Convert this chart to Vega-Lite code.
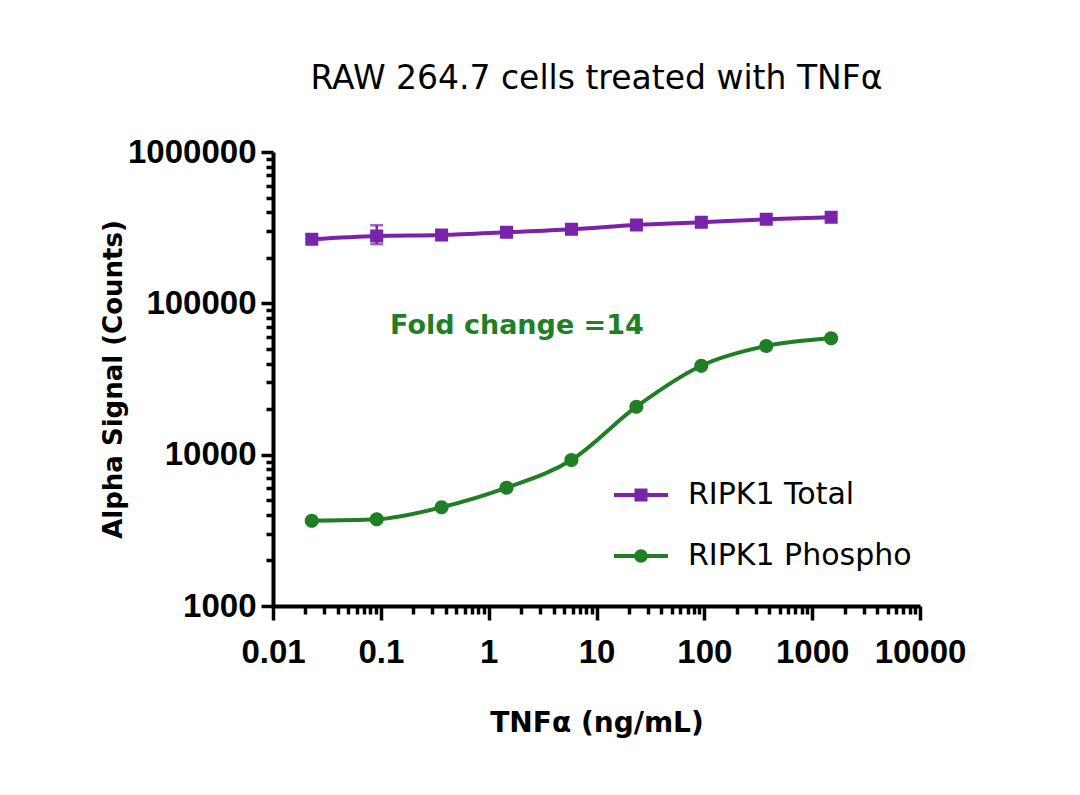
{
  "$schema": "https://vega.github.io/schema/vega-lite/v6.json",
  "width": 647,
  "height": 454,
  "autosize": {"type": "none"},
  "padding": {"left": 273, "top": 152, "right": 160, "bottom": 189},
  "background": "white",
  "title": {"text": "RAW 264.7 cells treated with TNFα", "font": "DejaVu Sans", "fontSize": 33, "fontWeight": "normal", "color": "black", "anchor": "middle", "offset": 40},
  "config": {"view": {"stroke": null}},
  "datasets": {
    "main": [
      {"series": "RIPK1 Total", "conc": 0.02289, "signal": 265000},
      {"series": "RIPK1 Total", "conc": 0.09155, "signal": 278600},
      {"series": "RIPK1 Total", "conc": 0.3662, "signal": 282900},
      {"series": "RIPK1 Total", "conc": 1.465, "signal": 294700},
      {"series": "RIPK1 Total", "conc": 5.859, "signal": 308500},
      {"series": "RIPK1 Total", "conc": 23.44, "signal": 329400},
      {"series": "RIPK1 Total", "conc": 93.75, "signal": 343200},
      {"series": "RIPK1 Total", "conc": 375, "signal": 359200},
      {"series": "RIPK1 Total", "conc": 1500, "signal": 370400},
      {"series": "RIPK1 Phospho", "conc": 0.02289, "signal": 3663},
      {"series": "RIPK1 Phospho", "conc": 0.09155, "signal": 3741},
      {"series": "RIPK1 Phospho", "conc": 0.3662, "signal": 4489},
      {"series": "RIPK1 Phospho", "conc": 1.465, "signal": 6049},
      {"series": "RIPK1 Phospho", "conc": 5.859, "signal": 9222},
      {"series": "RIPK1 Phospho", "conc": 23.44, "signal": 20750},
      {"series": "RIPK1 Phospho", "conc": 93.75, "signal": 38720},
      {"series": "RIPK1 Phospho", "conc": 375, "signal": 52260},
      {"series": "RIPK1 Phospho", "conc": 1500, "signal": 58750}
    ],
    "err": [
      {"series": "RIPK1 Total", "conc": 0.09155, "lower": 246000, "upper": 328000}
    ],
    "note": [
      {"label": "Fold change =14", "conc": 0.1217, "signal": 70800}
    ]
  },
  "layer": [
    {
      "data": {"name": "main"},
      "mark": {"type": "line", "interpolate": "monotone", "strokeWidth": 4},
      "encoding": {
        "x": {
          "field": "conc", "type": "quantitative", "title": "TNFα (ng/mL)",
          "scale": {"type": "log", "domain": [0.01, 10000], "nice": false},
          "axis": {
            "titleFont": "DejaVu Sans", "titleFontSize": 28, "titleFontWeight": "bold", "titleColor": "black", "titlePadding": 40,
            "values": [0.01,0.02,0.03,0.04,0.05,0.06,0.07,0.08,0.09,0.1,0.2,0.3,0.4,0.5,0.6,0.7,0.8,0.9,1,2,3,4,5,6,7,8,9,10,20,30,40,50,60,70,80,90,100,200,300,400,500,600,700,800,900,1000,2000,3000,4000,5000,6000,7000,8000,9000,10000],
            "labelExpr": "abs(log(datum.value)/LN10 - round(log(datum.value)/LN10)) < 1e-6 ? format(datum.value, '~f') : ''",
            "labelFont": "Liberation Sans", "labelFontSize": 33, "labelFontWeight": "bold", "labelColor": "black", "labelPadding": 16, "labelOverlap": false, "labelFlush": false,
            "tickSize": {"condition": {"test": "abs(log(datum.value)/LN10 - round(log(datum.value)/LN10)) < 1e-6", "value": 14}, "value": 8},
            "tickWidth": 3.5, "tickColor": "black",
            "domainWidth": 4, "domainColor": "black", "grid": false
          }
        },
        "y": {
          "field": "signal", "type": "quantitative", "title": "Alpha Signal (Counts)",
          "scale": {"type": "log", "domain": [1000, 1000000], "nice": false},
          "axis": {
            "titleFont": "DejaVu Sans", "titleFontSize": 26, "titleFontWeight": "bold", "titleColor": "black", "titlePadding": 1,
            "values": [1000,2000,3000,4000,5000,6000,7000,8000,9000,10000,20000,30000,40000,50000,60000,70000,80000,90000,100000,200000,300000,400000,500000,600000,700000,800000,900000,1000000],
            "labelExpr": "abs(log(datum.value)/LN10 - round(log(datum.value)/LN10)) < 1e-6 ? format(datum.value, '~f') : ''",
            "labelFont": "Liberation Sans", "labelFontSize": 33, "labelFontWeight": "bold", "labelColor": "black", "labelPadding": 5, "labelOverlap": false, "labelFlush": false,
            "tickSize": {"condition": {"test": "abs(log(datum.value)/LN10 - round(log(datum.value)/LN10)) < 1e-6", "value": 12}, "value": 7},
            "tickWidth": 3.5, "tickColor": "black",
            "domainWidth": 4, "domainColor": "black", "grid": false
          }
        },
        "color": {
          "field": "series", "type": "nominal",
          "scale": {"domain": ["RIPK1 Total", "RIPK1 Phospho"], "range": ["#7b22aa", "#1f7f24"]},
          "legend": {
            "orient": "none", "legendX": 339, "legendY": 314, "title": null,
            "symbolSize": 2916, "symbolStrokeWidth": 4,
            "labelFont": "DejaVu Sans", "labelFontSize": 30, "labelFontWeight": "normal", "labelColor": "black", "labelLimit": 400,
            "labelOffset": 18, "rowPadding": 17, "padding": 0
          }
        },
        "detail": {"field": "series"}
      }
    },
    {
      "data": {"name": "main"},
      "mark": {"type": "point", "filled": true, "size": 6084, "opacity": 1},
      "encoding": {
        "x": {"field": "conc", "type": "quantitative", "title": "TNFα (ng/mL)"},
        "y": {"field": "signal", "type": "quantitative", "title": "Alpha Signal (Counts)"},
        "color": {"field": "series", "type": "nominal"},
        "shape": {"field": "series", "type": "nominal", "scale": {"domain": ["RIPK1 Total", "RIPK1 Phospho"], "range": ["M-1,0H1M-0.167,-0.167H0.167V0.167H-0.167Z", "M-1,0H1M0.18,0A0.18,0.18 0 1,1 -0.18,0A0.18,0.18 0 1,1 0.18,0Z"]}, "legend": null}
      }
    },
    {
      "data": {"name": "err"},
      "mark": {"type": "errorbar", "ticks": {"size": 13, "thickness": 2.5}, "thickness": 2.5},
      "encoding": {
        "x": {"field": "conc", "type": "quantitative", "title": "TNFα (ng/mL)"},
        "y": {"field": "lower", "type": "quantitative", "title": "Alpha Signal (Counts)"},
        "y2": {"field": "upper"},
        "color": {"value": "#7b22aa"}
      }
    },
    {
      "data": {"name": "note"},
      "mark": {"type": "text", "align": "left", "baseline": "middle", "font": "DejaVu Sans", "fontSize": 27, "fontWeight": "bold", "color": "#1f7f24"},
      "encoding": {
        "x": {"field": "conc", "type": "quantitative", "title": "TNFα (ng/mL)"},
        "y": {"field": "signal", "type": "quantitative", "title": "Alpha Signal (Counts)"},
        "text": {"field": "label"}
      }
    }
  ]
}
